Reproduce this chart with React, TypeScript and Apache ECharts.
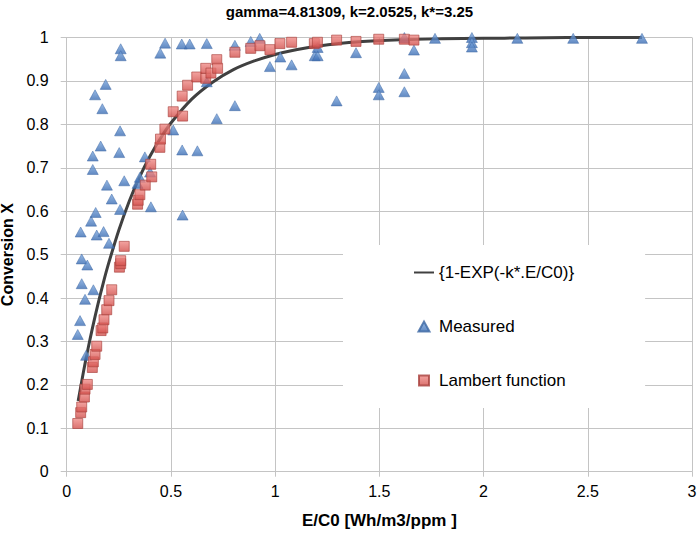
import React, { useEffect, useRef } from "react";
import * as echarts from "echarts";

const FONT = "'Liberation Sans', Arial, sans-serif";

const titleText = "gamma=4.81309, k=2.0525, k*=3.25";
const xName = "E/C0 [Wh/m3/ppm ]";
const yName = "Conversion X";
const seriesNames = ["{1-EXP(-k*.E/C0)}", "Measured", "Lambert function"];

// fitted curve
const curveX = [0.055, 0.08, 0.1, 0.125, 0.15, 0.175, 0.2, 0.25, 0.3, 0.35, 0.4, 0.45, 0.5, 0.6, 0.7, 0.8, 0.9, 1.0, 1.1, 1.2, 1.4, 1.6, 1.8, 2.0, 2.2, 2.4, 2.6, 2.76];
const curveY = [0.163, 0.229, 0.278, 0.334, 0.386, 0.434, 0.478, 0.556, 0.623, 0.679, 0.727, 0.768, 0.803, 0.858, 0.897, 0.926, 0.946, 0.961, 0.972, 0.98, 0.99, 0.995, 0.997, 0.998, 0.999, 1.0, 1.0, 1.0];

// measured points (triangles)
const measuredX = [0.053, 0.064, 0.072, 0.088, 0.128, 0.072, 0.099, 0.093, 0.067, 0.144, 0.177, 0.203, 0.117, 0.139, 0.556, 0.256, 0.404, 0.216, 0.34, 0.351, 0.276, 0.193, 0.4, 0.125, 0.125, 0.252, 0.375, 0.163, 0.554, 0.627, 0.256, 0.511, 0.171, 0.136, 0.187, 0.72, 0.807, 0.672, 0.259, 0.259, 0.472, 0.449, 0.552, 0.59, 0.672, 0.807, 0.883, 0.926, 0.975, 1.025, 1.079, 1.19, 1.204, 1.204, 1.295, 1.388, 1.497, 1.497, 1.62, 1.62, 1.62, 1.666, 1.767, 1.944, 1.944, 1.944, 2.162, 2.43, 2.76];
const measuredY = [0.316, 0.348, 0.433, 0.397, 0.419, 0.49, 0.476, 0.268, 0.552, 0.545, 0.553, 0.526, 0.577, 0.597, 0.591, 0.604, 0.61, 0.628, 0.664, 0.678, 0.67, 0.66, 0.69, 0.696, 0.727, 0.735, 0.725, 0.75, 0.741, 0.739, 0.785, 0.787, 0.836, 0.868, 0.892, 0.813, 0.843, 0.898, 0.974, 0.958, 0.987, 0.964, 0.985, 0.985, 0.986, 0.982, 0.991, 0.998, 0.933, 0.955, 0.937, 0.958, 0.958, 0.977, 0.854, 0.965, 0.885, 0.868, 0.917, 0.875, 1.0, 0.971, 0.998, 1.0, 0.988, 0.978, 0.998, 0.998, 0.998];

// Lambert function points (squares)
const lambertX = [0.053, 0.067, 0.072, 0.085, 0.088, 0.099, 0.123, 0.128, 0.136, 0.144, 0.165, 0.173, 0.179, 0.192, 0.203, 0.216, 0.253, 0.259, 0.259, 0.276, 0.34, 0.343, 0.351, 0.377, 0.408, 0.403, 0.447, 0.45, 0.471, 0.511, 0.556, 0.554, 0.58, 0.624, 0.667, 0.667, 0.692, 0.72, 0.724, 0.807, 0.883, 0.927, 0.975, 1.023, 1.079, 1.188, 1.203, 1.295, 1.388, 1.497, 1.62, 1.666];
const lambertY = [0.111, 0.136, 0.149, 0.172, 0.19, 0.201, 0.24, 0.253, 0.27, 0.289, 0.325, 0.331, 0.35, 0.373, 0.394, 0.419, 0.471, 0.479, 0.486, 0.519, 0.616, 0.625, 0.638, 0.66, 0.679, 0.708, 0.747, 0.766, 0.789, 0.829, 0.819, 0.865, 0.89, 0.909, 0.906, 0.929, 0.918, 0.949, 0.929, 0.966, 0.975, 0.981, 0.972, 0.986, 0.989, 0.986, 0.989, 0.994, 0.991, 0.996, 0.996, 0.994];

const zip = (xs: number[], ys: number[]) => xs.map((x, i) => [x, ys[i]]);

export default function App() {
  const ref = useRef<HTMLDivElement>(null);
  useEffect(() => {
    if (!ref.current) return;
    const chart = echarts.init(ref.current, undefined, { renderer: "svg" });
    const gridColor = "#c4c4c4";
    const triFill = new echarts.graphic.LinearGradient(0, 0, 0, 1, [
      { offset: 0, color: "#7ba7de" },
      { offset: 1, color: "#3a6cb3" },
    ]);
    const sqFill = new echarts.graphic.LinearGradient(0, 0, 0, 1, [
      { offset: 0, color: "#f08c88" },
      { offset: 1, color: "#d24f4b" },
    ]);
    chart.setOption({
      animation: false,
      backgroundColor: "#ffffff",
      textStyle: { fontFamily: FONT },
      title: {
        text: titleText,
        left: "center",
        top: 4,
        padding: 0,
        textStyle: { fontFamily: FONT, fontSize: 15, fontWeight: "bold", color: "#000" },
      },
      grid: {
        left: 66.7,
        right: 7,
        top: 37.5,
        bottom: 63.3,
        containLabel: false,
        outerBoundsMode: "none",
      },
      legend: {
        orient: "vertical",
        left: 343,
        top: 245,
        padding: [19, 71, 19, 70],
        itemGap: 37,
        itemWidth: 20,
        itemHeight: 10,
        backgroundColor: "#ffffff",
        textStyle: { fontFamily: FONT, fontSize: 17, color: "#000" },
        data: [
          { name: seriesNames[0], itemStyle: { opacity: 0 } },
          {
            name: seriesNames[1],
            icon: "path://M0,10 L5.5,0 L11,10 Z",
          },
          {
            name: seriesNames[2],
            icon: "path://M0,0 L10,0 L10,10 L0,10 Z",
          },
        ],
      },
      xAxis: {
        type: "value",
        min: 0,
        max: 3,
        interval: 0.5,
        name: xName,
        nameLocation: "middle",
        nameGap: 40,
        nameTextStyle: { fontFamily: FONT, fontSize: 17, fontWeight: "bold", color: "#000" },
        axisLine: { lineStyle: { color: gridColor, width: 1 } },
        axisTick: { show: true, length: 5, lineStyle: { color: gridColor } },
        axisLabel: { margin: 12, fontSize: 16, color: "#000", fontFamily: FONT },
        splitLine: { show: true, lineStyle: { color: gridColor, width: 1 } },
      },
      yAxis: {
        type: "value",
        min: 0,
        max: 1,
        interval: 0.1,
        name: yName,
        nameLocation: "middle",
        nameRotate: 90,
        nameGap: 41,
        nameTextStyle: { fontFamily: FONT, fontSize: 16, fontWeight: "bold", color: "#000" },
        axisLine: { show: true, lineStyle: { color: gridColor, width: 1 } },
        axisTick: { show: true, length: 6, lineStyle: { color: gridColor } },
        axisLabel: { margin: 18, fontSize: 16, color: "#000", fontFamily: FONT },
        splitLine: { show: true, lineStyle: { color: gridColor, width: 1 } },
      },
      series: [
        {
          name: seriesNames[0],
          type: "line",
          data: zip(curveX, curveY),
          symbol: "none",
          showSymbol: false,
          smooth: 0.3,
          lineStyle: { color: "#404040", width: 3 },
          itemStyle: { color: "#404040" },
          z: 2,
        },
        {
          name: seriesNames[1],
          type: "scatter",
          data: zip(measuredX, measuredY),
          symbol: "triangle",
          symbolSize: [11, 10],
          itemStyle: { color: triFill, borderColor: "#3b66a3", borderWidth: 0.6 },
          z: 3,
        },
        {
          name: seriesNames[2],
          type: "scatter",
          data: zip(lambertX, lambertY),
          symbol: "rect",
          symbolSize: 10,
          itemStyle: { color: sqFill, borderColor: "#a8403c", borderWidth: 0.8 },
          z: 4,
        },
      ],
    });
    return () => chart.dispose();
  }, []);
  return (
    <div
      ref={ref}
      style={{ position: "absolute", left: 0, top: 0, width: 699, height: 535 }}
    />
  );
}
